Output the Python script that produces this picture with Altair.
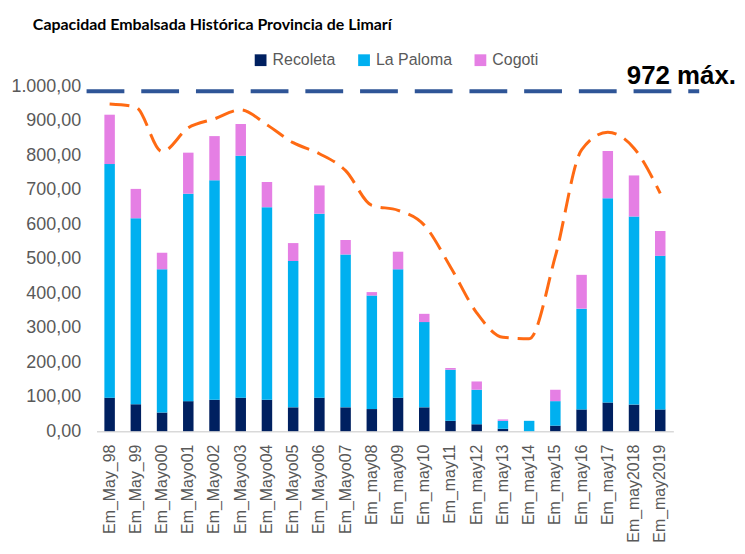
import altair as alt
import pandas as pd

categories = ["Em_May_98", "Em_May_99", "Em_Mayo00", "Em_Mayo01", "Em_Mayo02", "Em_Mayo03",
              "Em_Mayo04", "Em_Mayo05", "Em_Mayo06", "Em_Mayo07", "Em_may08", "Em_may09",
              "Em_may10", "Em_may11", "Em_may12", "Em_may13", "Em_may14", "Em_may15",
              "Em_may16", "Em_may17", "Em_may2018", "Em_may2019"]
recoleta = [97, 78, 54, 87, 91, 97, 91, 69, 97, 69, 64, 97, 69, 30, 20, 7, 0, 16, 63, 83, 77, 63]
la_paloma = [677, 539, 415, 601, 636, 701, 558, 424, 533, 443, 329, 372, 247, 148, 100, 23, 30, 71, 292, 592, 545, 445]
cogoti = [143, 85, 48, 119, 128, 92, 73, 52, 82, 42, 10, 51, 24, 5, 24, 4, 0, 33, 98, 137, 119, 72]
curve = [948, 939, 810, 879, 905, 931, 888, 836, 804, 755, 654, 640, 597, 476, 343, 272, 268, 507, 815, 866, 820, 689]
y_ticks = [0, 100, 200, 300, 400, 500, 600, 700, 800, 900, 1000]
max_value = [985]
max_label = ["972 máx."]

series_names = ["Recoleta", "La Paloma", "Cogoti"]
series_colors = ["#002060", "#00B0F0", "#E57FE4"]

rows = []
for order, (name, vals) in enumerate(zip(series_names, [recoleta, la_paloma, cogoti])):
    for c, v in zip(categories, vals):
        rows.append({"cat": c, "serie": name, "valor": v, "orden": order})
bars_df = pd.DataFrame(rows)
curve_df = pd.DataFrame({"cat": categories, "valor": curve})
max_df = pd.DataFrame({"valor": max_value, "label": max_label})

FONT = "Liberation Sans"
GREY = "#595959"

x_enc = alt.X("cat:N", sort=categories, title=None,
              scale=alt.Scale(paddingInner=0.6, paddingOuter=0.3),
              axis=alt.Axis(labelAngle=-90, labelFontSize=16, labelFont=FONT, labelColor=GREY,
                            ticks=False, domainColor="#D9D9D9", domainWidth=1.5, labelPadding=13,
                            grid=False))
y_scale = alt.Scale(domain=[0, 1000], nice=False)
y_axis = alt.Axis(values=y_ticks, grid=False, domain=False, ticks=False,
                  labelOverlap=False, labelFontSize=18, labelFont=FONT,
                  labelColor=GREY, labelPadding=16,
                  labelExpr="replace(replace(replace(format(datum.value, ',.2f'), ',', '#'), '.', ','), '#', '.')")

bars = alt.Chart(bars_df).mark_bar().encode(
    x=x_enc,
    y=alt.Y("valor:Q", stack="zero", scale=y_scale, title=None, axis=y_axis),
    color=alt.Color("serie:N", sort=series_names,
                    scale=alt.Scale(domain=series_names, range=series_colors),
                    legend=alt.Legend(title=None, orient="none", direction="horizontal",
                                      legendX=157, legendY=-34, symbolType="square", symbolSize=140,
                                      symbolStrokeWidth=0, labelFontSize=16, labelFont=FONT,
                                      labelColor=GREY, columnPadding=20, labelOffset=4)),
    order=alt.Order("orden:Q"),
)

line = alt.Chart(curve_df).mark_line(color="#FF6A13", strokeWidth=3, strokeDash=[20, 9],
                                     interpolate="monotone").encode(
    x=alt.X("cat:N", sort=categories),
    y=alt.Y("valor:Q", scale=y_scale, title=None, axis=y_axis),
)

max_rule = alt.Chart(max_df).mark_rule(color="#2F5597", strokeWidth=4, strokeDash=[38, 17]).encode(
    y=alt.Y("valor:Q", scale=y_scale, title=None, axis=y_axis),
    x=alt.value(-10),
    x2=alt.value(606),
)

max_text = alt.Chart(max_df).mark_text(align="right", baseline="alphabetic", dy=-7,
                                       font=FONT, fontSize=26, fontWeight="bold",
                                       color="#000000").encode(
    y=alt.Y("valor:Q", scale=y_scale, title=None, axis=y_axis),
    x=alt.value(643),
    text="label:N",
)

chart = alt.layer(bars, line, max_rule, max_text).properties(
    width=580, height=347,
    title=alt.TitleParams(text="Capacidad Embalsada Histórica Provincia de Limarí",
                          anchor="start", frame="group", dx=-64, offset=19,
                          font="Lato", fontSize=16, fontWeight="bold",
                          color="#000000"),
    autosize=alt.AutoSizeParams(type="none"),
    padding={"left": 89, "top": 77, "right": 64, "bottom": 118},
).configure_view(stroke=None).configure_axisY(labelOverlap=False)

chart.save("out.html", embed_options={"renderer": "svg", "actions": False})
